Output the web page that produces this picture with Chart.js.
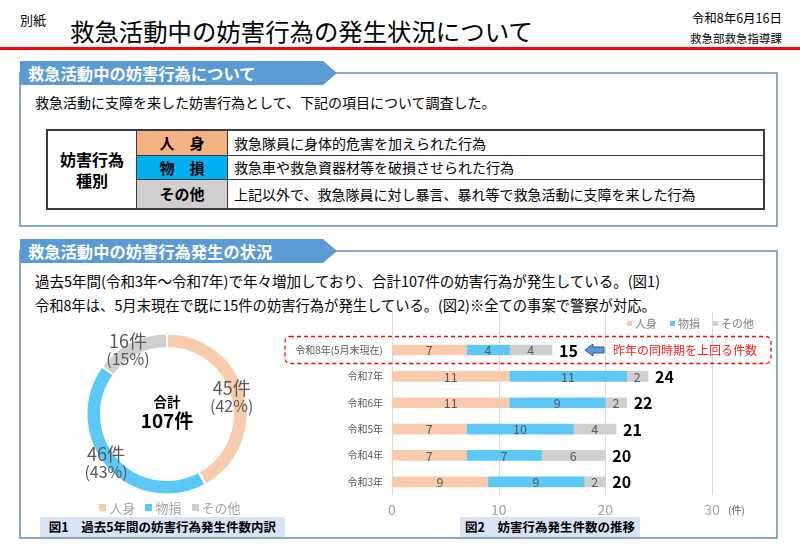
<!DOCTYPE html>
<html><head><meta charset="utf-8">
<script src="https://cdn.jsdelivr.net/npm/chart.js@4"></script>
<style>
body{margin:0;width:800px;height:554px;position:relative;background:#fff;font-family:"Noto Sans CJK JP","Noto Sans",sans-serif;overflow:hidden;color:#000}
.a{position:absolute;white-space:nowrap;line-height:1}
.box{position:absolute;border:2px solid #8DA9C4;box-sizing:border-box}
.tab{position:absolute;background:#5B9BD5;color:#fff;font-weight:bold;font-size:16.3px;line-height:24px;height:24px;width:317px;padding-left:8px;box-sizing:border-box;clip-path:polygon(0 0,calc(100% - 14px) 0,100% 50%,calc(100% - 14px) 100%,0 100%)}
table{position:absolute;border-collapse:collapse;font-size:14px}
td{border:1.5px solid #3a3a3a;padding:0}
.lab{font-weight:bold;text-align:center;font-size:15px}
.desc{padding-left:6px}
.leg{position:absolute;display:flex;align-items:center;white-space:nowrap;line-height:1}
.leg i{display:inline-block}
.cap{position:absolute;background:#DAE3F3;font-weight:bold;font-size:12.5px;text-align:center;line-height:20px;height:20px}
</style></head><body>
<div class="a" style="left:20px;top:13px;font-size:13px">別紙</div>
<div class="a" style="left:70px;top:19px;font-size:24.4px">救急活動中の妨害行為の発生状況について</div>
<div class="a" style="right:18px;top:12px;font-size:12.5px">令和8年6月16日</div>
<div class="a" style="right:18px;top:33px;font-size:11.5px">救急部救急指導課</div>
<div style="position:absolute;left:0;top:47px;width:800px;height:3px;background:#FF0000"></div>

<div class="box" style="left:19px;top:72px;width:759px;height:155px"></div>
<div class="tab" style="left:20px;top:61px">救急活動中の妨害行為について</div>
<div class="a" style="left:35px;top:95px;font-size:14px">救急活動に支障を来した妨害行為として、下記の項目について調査した。</div>
<table style="left:46px;top:129px;width:719px;height:79px;border:2px solid #3a3a3a">
<tr style="height:25px"><td rowspan="3" class="lab" style="width:88px;font-size:16px;line-height:21px">妨害行為<br>種別</td><td class="lab" style="width:90px;background:#F4B183">人　身</td><td class="desc">救急隊員に身体的危害を加えられた行為</td></tr>
<tr style="height:24px"><td class="lab" style="background:#00B0F0">物　損</td><td class="desc">救急車や救急資器材等を破損させられた行為</td></tr>
<tr style="height:30px"><td class="lab" style="background:#D0CECE">その他</td><td class="desc">上記以外で、救急隊員に対し暴言、暴れ等で救急活動に支障を来した行為</td></tr>
</table>

<div class="box" style="left:19px;top:250px;width:759px;height:289px"></div>
<div class="tab" style="left:20px;top:239px">救急活動中の妨害行為発生の状況</div>
<div class="a" style="left:35px;top:274px;font-size:14.5px">過去5年間(令和3年～令和7年)で年々増加しており、合計107件の妨害行為が発生している。(図1)</div>
<div class="a" style="left:35px;top:298px;font-size:14.3px">令和8年は、5月末現在で既に15件の妨害行為が発生している。(図2)※全ての事案で警察が対応。</div>

<canvas id="donut" width="254" height="200" style="position:absolute;left:40px;top:314px"></canvas>
<div id="dleg" class="leg" style="left:70px;top:501px;width:200px;justify-content:center;font-size:13px;color:#A6A6A6"></div>
<div class="cap" style="left:40px;top:517px;width:245px">図1　過去5年間の妨害行為発生件数内訳</div>

<canvas id="bar" width="500" height="230" style="position:absolute;left:280px;top:300px"></canvas>
<div id="bleg" class="leg" style="left:627px;top:318px;font-size:11px;color:#7F7F7F"></div>
<div class="cap" style="left:460px;top:517px;width:180px">図2　妨害行為発生件数の推移</div>

<script>
// ---- data ----
const categories = ['令和8年(5月末現在)', '令和7年', '令和6年', '令和5年', '令和4年', '令和3年'];
const seriesNames = ['人身', '物損', 'その他'];
const jinshin = [7, 11, 11, 7, 7, 9];
const butsuson = [4, 11, 9, 10, 7, 9];
const sonota = [4, 2, 2, 4, 6, 2];
const donutLabels = ['人身', '物損', 'その他'];
const donutValues = [45, 46, 16];
const xTicks = [0, 10, 20, 30];

const colors = ['#F8CBAD', '#5BC8F5', '#D0CECE'];
const FONT = '"Noto Sans CJK JP","Noto Sans",sans-serif';

// legends (HTML)
function makeLegend(id, sq, gap, m) {
  const el = document.getElementById(id);
  seriesNames.forEach((n, i) => {
    const s = document.createElement('span');
    s.style.display = 'inline-flex'; s.style.alignItems = 'center';
    if (i < seriesNames.length - 1) s.style.marginRight = gap + 'px';
    s.innerHTML = '<i style="width:' + sq + 'px;height:' + sq + 'px;background:' + colors[i] + ';margin-right:' + m + 'px"></i>' + n;
    el.appendChild(s);
  });
}
makeLegend('dleg', 7, 10, 3);
makeLegend('bleg', 5, 13, 3);

const total = donutValues.reduce((a, b) => a + b, 0);

const donutText = {
  id: 'donutText',
  afterDatasetsDraw(chart) {
    const ctx = chart.ctx;
    const meta = chart.getDatasetMeta(0);
    const cx = (chart.chartArea.left + chart.chartArea.right) / 2;
    const cy = (chart.chartArea.top + chart.chartArea.bottom) / 2;
    ctx.save();
    ctx.textAlign = 'center'; ctx.textBaseline = 'middle';
    meta.data.forEach((arc, i) => {
      const mid = (arc.startAngle + arc.endAngle) / 2;
      const x = arc.x + Math.cos(mid) * 73 - 6;
      const y = arc.y + Math.sin(mid) * 73 + 1;
      const v = donutValues[i];
      ctx.fillStyle = '#595959';
      ctx.font = '18px ' + FONT;
      ctx.fillText(v + '件', x, y - 9);
      ctx.font = '16px ' + FONT;
      ctx.fillText('(' + Math.round(v / total * 100) + '%)', x, y + 9);
    });
    ctx.fillStyle = '#000';
    ctx.font = 'bold 13.5px ' + FONT;
    ctx.fillText('合計', cx, cy - 12);
    ctx.font = 'bold 19px ' + FONT;
    ctx.fillText(total + '件', cx, cy + 7);
    ctx.restore();
  }
};

new Chart(document.getElementById('donut'), {
  type: 'doughnut',
  data: { labels: donutLabels, datasets: [{ data: donutValues, backgroundColor: colors, borderColor: '#fff', borderWidth: 2 }] },
  options: {
    responsive: false, animation: false, devicePixelRatio: 1,
    radius: 80.5, cutout: '82%',
    plugins: { legend: { display: false }, tooltip: { enabled: false } },
    layout: { padding: 0 }
  },
  plugins: [donutText]
});

const barText = {
  id: 'barText',
  beforeDatasetsDraw(chart) {
    const ctx = chart.ctx, xs = chart.scales.x, ca = chart.chartArea;
    ctx.save();
    ctx.strokeStyle = '#D9D9D9'; ctx.lineWidth = 1;
    xTicks.forEach(t => {
      const px = Math.round(xs.getPixelForValue(t)) + 0.5;
      ctx.beginPath(); ctx.moveTo(px, 12); ctx.lineTo(px, ca.bottom); ctx.stroke();
    });
    ctx.restore();
  },
  afterDatasetsDraw(chart) {
    const ctx = chart.ctx, xs = chart.scales.x, ys = chart.scales.y, ca = chart.chartArea;
    ctx.save();
    ctx.textBaseline = 'middle';
    chart.data.datasets.forEach((ds, di) => {
      chart.getDatasetMeta(di).data.forEach((el, i) => {
        ctx.fillStyle = '#595959'; ctx.font = '12.5px ' + FONT; ctx.textAlign = 'center';
        ctx.fillText(String(ds.data[i]), (el.x + el.base) / 2, el.y + 0.5);
      });
    });
    categories.forEach((c, i) => {
      const sum = jinshin[i] + butsuson[i] + sonota[i];
      ctx.fillStyle = '#000'; ctx.font = 'bold 16px ' + FONT; ctx.textAlign = 'left';
      ctx.fillText(String(sum), xs.getPixelForValue(sum) + 7, ys.getPixelForValue(i) + 0.5);
    });
    // unit
    ctx.fillStyle = '#595959'; ctx.font = '10px ' + FONT; ctx.textAlign = 'left';
    ctx.fillText('(件)', ca.right + 16, ca.bottom + 15);
    // annotation on first row
    const ry = ys.getPixelForValue(0);
    ctx.strokeStyle = '#FF0000'; ctx.lineWidth = 1.3; ctx.setLineDash([4, 3]);
    ctx.beginPath();
    if (ctx.roundRect) ctx.roundRect(5, ry - 13.5, 486, 27, 5); else ctx.rect(5, ry - 13.5, 486, 27);
    ctx.stroke();
    ctx.setLineDash([]);
    // arrow
    const ax = 305;
    ctx.beginPath();
    ctx.moveTo(ax, ry);
    ctx.lineTo(ax + 8, ry - 6);
    ctx.lineTo(ax + 8, ry - 3);
    ctx.lineTo(ax + 19, ry - 3);
    ctx.lineTo(ax + 19, ry + 3);
    ctx.lineTo(ax + 8, ry + 3);
    ctx.lineTo(ax + 8, ry + 6);
    ctx.closePath();
    ctx.fillStyle = '#5B9BD5'; ctx.fill();
    ctx.strokeStyle = '#2F5597'; ctx.lineWidth = 1; ctx.stroke();
    ctx.fillStyle = '#FF2020'; ctx.font = '12px ' + FONT; ctx.textAlign = 'left';
    ctx.fillText('昨年の同時期を上回る件数', 333, ry);
    ctx.restore();
  }
};

new Chart(document.getElementById('bar'), {
  type: 'bar',
  data: {
    labels: categories,
    datasets: [
      { label: seriesNames[0], data: jinshin, backgroundColor: colors[0], barThickness: 10 },
      { label: seriesNames[1], data: butsuson, backgroundColor: colors[1], barThickness: 10 },
      { label: seriesNames[2], data: sonota, backgroundColor: colors[2], barThickness: 10 }
    ]
  },
  options: {
    indexAxis: 'y', responsive: false, animation: false, devicePixelRatio: 1,
    layout: { padding: { top: 36.8, right: 68, left: 0, bottom: 0 } },
    plugins: { legend: { display: false }, tooltip: { enabled: false } },
    scales: {
      x: {
        stacked: true, min: 0, max: 30,
        afterFit(s) { s.height = 35; },
        afterBuildTicks(s) { s.ticks = xTicks.map(v => ({ value: v })); },
        grid: { display: false, drawTicks: false },
        border: { display: false },
        ticks: { padding: 6, color: '#A0A0A0', font: { family: FONT, size: 14 } }
      },
      y: {
        stacked: true,
        afterFit(s) { s.width = 112; },
        grid: { display: false, drawTicks: false },
        border: { display: false },
        ticks: { padding: 9, color: '#595959', font: { family: FONT, size: 10 } }
      }
    }
  },
  plugins: [barText]
});
</script>
</body></html>
